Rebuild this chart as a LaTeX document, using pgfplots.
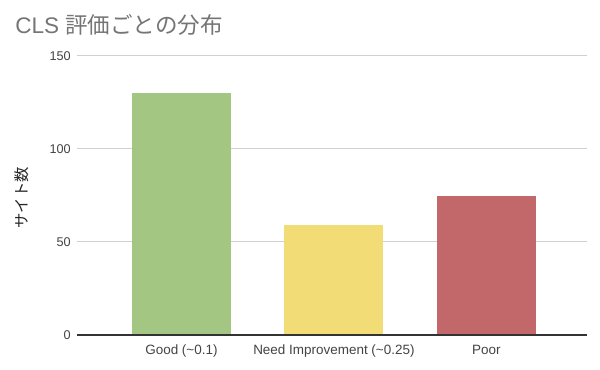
\documentclass[border=0pt]{standalone}
\usepackage{fontspec}
\setmainfont{Liberation Sans}
\newfontfamily\cjk{Noto Sans CJK JP}
\usepackage{pgfplots}
\pgfplotsset{compat=1.18}
\definecolor{goodc}{HTML}{A3C682}
\definecolor{needc}{HTML}{F2DC76}
\definecolor{poorc}{HTML}{C3686A}
\definecolor{gridc}{HTML}{D0D0D0}
\definecolor{tickc}{HTML}{444444}
\definecolor{titlec}{HTML}{757575}
\definecolor{axisc}{HTML}{333333}
\begin{document}
\begin{tikzpicture}
\useasboundingbox (0,0) rectangle (450pt,277.5pt);
\fill[white] (0,0) rectangle (450pt,277.5pt);
\begin{axis}[
  at={(57.75pt,26.25pt)}, anchor=south west,
  scale only axis, width=382.5pt, height=209.25pt,
  xmin=-0.685, xmax=2.66, ymin=0, ymax=150,
  ytick={0,50,100,150},
  xtick={0,1,2},
  xticklabels={Good (\textasciitilde 0.1), Need Improvement (\textasciitilde 0.25), Poor},
  axis line style={draw=none},
  tick style={draw=none},
  ymajorgrids, grid style={color=gridc, line width=0.75pt},
  ticklabel style={font=\fontsize{9.5}{11}\selectfont, text=tickc},
  /pgf/number format/assume math mode=true,
  yticklabel style={anchor=east, inner sep=0pt, xshift=-4.5pt},
  xticklabel style={anchor=north, inner sep=0pt, yshift=-3pt, font=\fontsize{10.1}{12}\selectfont},
  ybar, bar width=74.25pt, bar shift=0pt,
  clip=false,
]
\addplot[fill=goodc, draw=none] coordinates {(0,130)};
\addplot[fill=needc, draw=none] coordinates {(1,59)};
\addplot[fill=poorc, draw=none] coordinates {(2,74.5)};
\draw[axisc, line width=0.9pt] (axis cs:-0.685,0) -- (axis cs:2.66,0);
\end{axis}
\node[anchor=west, inner sep=0pt, text=titlec, font=\fontsize{16.9}{19}\selectfont] at (11.25pt,258.75pt) {CLS {\cjk 評価ごとの分布}};
\node[rotate=90, inner sep=0pt, text=black!85, font=\cjk\fontsize{11.5}{13}\selectfont] at (16.5pt,129pt) {サイト数};
\end{tikzpicture}
\end{document}
